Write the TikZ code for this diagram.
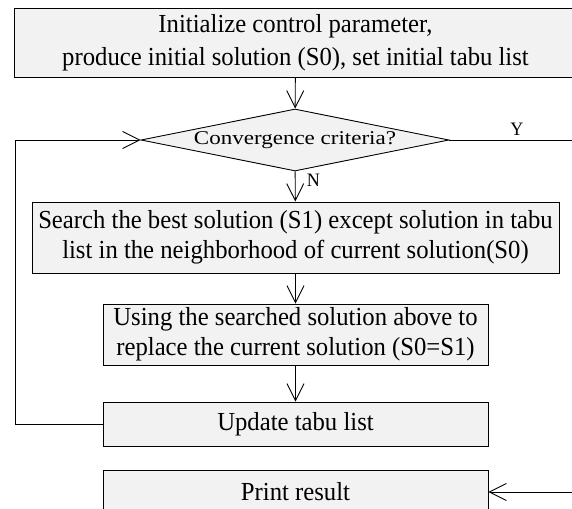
\documentclass[tikz,border=0pt]{standalone}
\usepackage{fontspec}
\setmainfont{Liberation Serif}[FakeStretch=0.95]
\newfontfamily\widefont{Liberation Serif}[FakeStretch=1.18]
\usetikzlibrary{positioning,arrows.meta,shapes.geometric}

\begin{document}
\begin{tikzpicture}[x=1pt, y=-1pt, line width=0.9pt,
  >={Straight Barb[length=17pt,width=17pt,line width=0.9pt]},
  box/.style={draw, fill=black!5, align=center, inner sep=0pt,
              font=\fontsize{26}{30}\selectfont},
  test/.style={draw, fill=black!5, shape=diamond, aspect=5, inner sep=0pt,
              minimum width=308pt, minimum height=62pt,
              font=\widefont\fontsize{19.5}{22}\selectfont},
  lab/.style={font=\fontsize{19}{21}\selectfont}]
  \useasboundingbox (0,0) rectangle (572,508);
  \clip (0,0) rectangle (572,508);
  \node[box, minimum width=563pt, minimum height=69pt,
        font=\fontsize{26}{33}\selectfont] (init) at (295.5,42.5)
    {Initialize control parameter,\\produce initial solution (S0), set initial tabu list};
  \node[test] (conv) at (295,140) {Convergence criteria?};
  \node[box, minimum width=527pt, minimum height=71pt] (search) at (295.5,237.5)
    {Search the best solution (S1) except solution in tabu\\
     list in the neighborhood of current solution(S0)};
  \node[box, minimum width=385pt, minimum height=61pt] (replace) at (295.5,334.5)
    {Using the searched solution above to\\replace the current solution (S0=S1)};
  \node[box, minimum width=385pt, minimum height=44pt] (update) at (295.5,424)
    {Update tabu list};
  \node[box, minimum width=385pt, minimum height=44pt] (print) at (295.5,492)
    {Print result};
  % loop back and exits
  \coordinate (back) at (15,424);
  \coordinate (yes) at (572,140);
  \coordinate (done) at (572,492);
  \draw[->] (init) -- (conv);
  \draw[->] (conv) -- node[lab, right=8pt, pos=0.3] {N} (search);
  \draw[->] (search) -- (replace);
  \draw[->] (replace) -- (update);
  \draw[->] (update) -- (back) |- (conv);
  \draw (conv) -- node[lab, above=1pt, pos=0.55] {Y} (yes);
  \draw[->] (done) -- (print);
\end{tikzpicture}
\end{document}
